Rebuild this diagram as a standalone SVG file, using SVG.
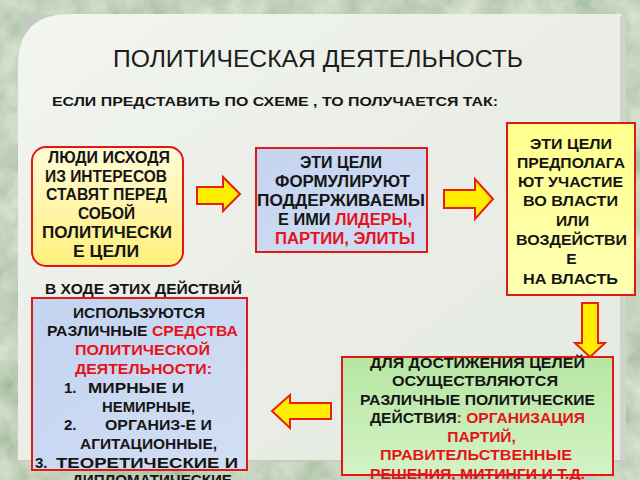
<svg xmlns="http://www.w3.org/2000/svg" width="640" height="480" viewBox="0 0 640 480" xml:space="preserve">
<style>
.t{font-family:"Liberation Sans",Arial,sans-serif;font-weight:bold;font-size:15px;fill:#151515;text-anchor:middle}
.b1{font-size:16px}
.b2{font-size:16px}
.b3{font-size:15.5px}
.b4{font-size:15.5px}
.s{text-anchor:start}
.r{fill:#e5141c}
.box{stroke:#e01818;stroke-width:2}
.arr{fill:#ffee00;stroke:#e82010;stroke-width:2;stroke-linejoin:miter}
</style>
<defs>
<filter id="tex" x="0" y="0" width="100%" height="100%">
<feTurbulence type="fractalNoise" baseFrequency="0.035" numOctaves="4" seed="7"/>
<feColorMatrix type="matrix" values="0.75 0 0 0 0.22  0.6 0 0 0 0.38  0.65 0 0 0 0.22  0 0 0 0 1"/>
</filter>
<linearGradient id="panel" x1="0" y1="0" x2="1" y2="1">
<stop offset="0" stop-color="#f2f5f0"/>
<stop offset="0.5" stop-color="#eaeee7"/>
<stop offset="1" stop-color="#e4e9e1"/>
</linearGradient>
<linearGradient id="y1" x1="0" y1="0" x2="0" y2="1">
<stop offset="0" stop-color="#fffbd8"/>
<stop offset="1" stop-color="#fff07c"/>
</linearGradient>
<linearGradient id="y3" x1="0" y1="0" x2="0" y2="1">
<stop offset="0" stop-color="#ffff8c"/>
<stop offset="1" stop-color="#ffffb4"/>
</linearGradient>
<linearGradient id="bl" x1="0" y1="0" x2="1" y2="1">
<stop offset="0" stop-color="#c3d4f0"/>
<stop offset="1" stop-color="#d2def3"/>
</linearGradient>
<linearGradient id="gr" x1="0" y1="0" x2="0" y2="1">
<stop offset="0" stop-color="#b6e6a2"/>
<stop offset="1" stop-color="#d4f2c6"/>
</linearGradient>
</defs>

<rect x="0" y="0" width="640" height="480" filter="url(#tex)"/>
<rect x="0" y="0" width="640" height="480" fill="#b8ccae" opacity="0.35"/>
<path d="M22,18 Q22,14 26,14 L626,14 L626,462 L22,462 Z" fill="#c5cbc2" opacity="0.7"/>
<path d="M18,66 Q18,14 70,14 L622,14 L622,460 L18,460 Z" fill="url(#panel)"/>
<rect x="620" y="16" width="6" height="444" fill="#cfd4cb"/>

<text x="318" y="67" font-family="'Liberation Sans',Arial,sans-serif" font-size="23" fill="#1c1c1c" text-anchor="middle" textLength="410" lengthAdjust="spacingAndGlyphs">ПОЛИТИЧЕСКАЯ  ДЕЯТЕЛЬНОСТЬ</text>
<text x="52" y="106" font-family="'Liberation Sans',Arial,sans-serif" font-weight="bold" font-size="13.5" fill="#151515" textLength="446" lengthAdjust="spacingAndGlyphs">ЕСЛИ  ПРЕДСТАВИТЬ ПО СХЕМЕ , ТО ПОЛУЧАЕТСЯ ТАК:</text>

<g id="connectors">
<polygon class="arr" points="197,187 223,187 223,177 240,194 223,211 223,204 197,204"/>
<polygon class="arr" points="444,190 475,190 475,179 493,199 475,219 475,208 444,208"/>
<polygon class="arr" points="582,303 598,303 598,343 605,343 590,357 575,343 582,343"/>
<polygon class="arr" points="331,403 331,419 290,419 290,428 272,411 290,395 290,403"/>
</g>

<g id="node-people">
<rect class="box" x="32" y="147" width="151" height="119" rx="14" fill="url(#y1)"/>
<text class="t b1" x="109" y="163" textLength="122" lengthAdjust="spacingAndGlyphs">ЛЮДИ ИСХОДЯ</text>
<text class="t b1" x="106" y="181.7" textLength="122" lengthAdjust="spacingAndGlyphs">ИЗ ИНТЕРЕСОВ</text>
<text class="t b1" x="106.5" y="200.4" textLength="121" lengthAdjust="spacingAndGlyphs">СТАВЯТ ПЕРЕД</text>
<text class="t b1" x="106.5" y="219.1" textLength="57" lengthAdjust="spacingAndGlyphs">СОБОЙ</text>
<text class="t b1" x="107" y="237.8" textLength="130" lengthAdjust="spacingAndGlyphs">ПОЛИТИЧЕСКИ</text>
<text class="t b1" x="106" y="256.5" textLength="66" lengthAdjust="spacingAndGlyphs">Е ЦЕЛИ</text>
</g>

<g id="node-formulate">
<rect class="box" x="256" y="148" width="171" height="104" fill="url(#bl)"/>
<text class="t b2" x="341" y="167.5" textLength="82" lengthAdjust="spacingAndGlyphs">ЭТИ ЦЕЛИ</text>
<text class="t b2" x="342.5" y="186.7" textLength="135" lengthAdjust="spacingAndGlyphs">ФОРМУЛИРУЮТ</text>
<text class="t b2" x="341" y="205.9" textLength="168" lengthAdjust="spacingAndGlyphs">ПОДДЕРЖИВАЕМЫ</text>
<text class="t b2" x="345" y="225.1" textLength="134" lengthAdjust="spacingAndGlyphs">Е ИМИ  <tspan class="r">ЛИДЕРЫ,</tspan></text>
<text class="t b2 r" x="345" y="244.3" textLength="140" lengthAdjust="spacingAndGlyphs">ПАРТИИ, ЭЛИТЫ</text>
</g>

<g id="node-power">
<rect class="box" x="507" y="123" width="128" height="172" fill="url(#y3)"/>
<text class="t b3" x="571" y="148.5" textLength="82" lengthAdjust="spacingAndGlyphs">ЭТИ ЦЕЛИ</text>
<text class="t b3" x="571" y="167.8" textLength="108" lengthAdjust="spacingAndGlyphs">ПРЕДПОЛАГА</text>
<text class="t b3" x="570.5" y="187.1" textLength="105" lengthAdjust="spacingAndGlyphs">ЮТ  УЧАСТИЕ</text>
<text class="t b3" x="570.5" y="206.4" textLength="95" lengthAdjust="spacingAndGlyphs">ВО  ВЛАСТИ</text>
<text class="t b3" x="572.5" y="225.7">ИЛИ</text>
<text class="t b3" x="571.5" y="245" textLength="111" lengthAdjust="spacingAndGlyphs">ВОЗДЕЙСТВИ</text>
<text class="t b3" x="571.5" y="264.3">Е</text>
<text class="t b3" x="570.5" y="283.6" textLength="95" lengthAdjust="spacingAndGlyphs">НА ВЛАСТЬ</text>
</g>

<g id="node-actions">
<rect class="box" x="342" y="357" width="271" height="118" fill="url(#gr)"/>
<text class="t b4" x="477.5" y="367.5" textLength="215" lengthAdjust="spacingAndGlyphs">ДЛЯ  ДОСТИЖЕНИЯ ЦЕЛЕЙ</text>
<text class="t b4" x="475" y="386" textLength="166" lengthAdjust="spacingAndGlyphs">ОСУЩЕСТВЛЯЮТСЯ</text>
<text class="t b4" x="477.5" y="404.5" textLength="235" lengthAdjust="spacingAndGlyphs">РАЗЛИЧНЫЕ ПОЛИТИЧЕСКИЕ</text>
<text class="t b4" x="477.5" y="423" textLength="215" lengthAdjust="spacingAndGlyphs">ДЕЙСТВИЯ<tspan class="r">: ОРГАНИЗАЦИЯ</tspan></text>
<text class="t b4 r" x="481.5" y="441.5">ПАРТИЙ,</text>
<text class="t b4 r" x="476" y="460" textLength="192" lengthAdjust="spacingAndGlyphs">ПРАВИТЕЛЬСТВЕННЫЕ</text>
<text class="t b4 r" x="477.5" y="478.5" textLength="215" lengthAdjust="spacingAndGlyphs">РЕШЕНИЯ, МИТИНГИ  И Т.Д.</text>
</g>

<g id="node-means">
<rect class="box" x="32" y="298" width="215" height="172" fill="url(#bl)"/>
<text class="t" x="143.5" y="293.5" textLength="197" lengthAdjust="spacingAndGlyphs">В ХОДЕ ЭТИХ ДЕЙСТВИЙ</text>
<text class="t" x="139" y="317.5" textLength="132" lengthAdjust="spacingAndGlyphs">ИСПОЛЬЗУЮТСЯ</text>
<text class="t" x="142.5" y="336.3" textLength="191" lengthAdjust="spacingAndGlyphs">РАЗЛИЧНЫЕ <tspan class="r">СРЕДСТВА</tspan></text>
<text class="t r" x="142.5" y="355.1" textLength="135" lengthAdjust="spacingAndGlyphs">ПОЛИТИЧЕСКОЙ</text>
<text class="t r" x="143.5" y="373.9" textLength="137" lengthAdjust="spacingAndGlyphs">ДЕЯТЕЛЬНОСТИ:</text>
<text class="t s" x="64" y="392.7">1.</text>
<text class="t s" x="88" y="392.7" textLength="96" lengthAdjust="spacingAndGlyphs">МИРНЫЕ  И</text>
<text class="t s" x="102" y="411.5" textLength="93" lengthAdjust="spacingAndGlyphs">НЕМИРНЫЕ,</text>
<text class="t s" x="64" y="430.3">2.</text>
<text class="t s" x="105" y="430.3" textLength="107" lengthAdjust="spacingAndGlyphs">ОРГАНИЗ-Е И</text>
<text class="t s" x="80" y="449.1" textLength="137" lengthAdjust="spacingAndGlyphs">АГИТАЦИОННЫЕ,</text>
<text class="t s" x="35" y="467.9">3.</text>
<text class="t s" x="56" y="467.9" textLength="182" lengthAdjust="spacingAndGlyphs">ТЕОРЕТИЧЕСКИЕ   И</text>
<text class="t s" x="72" y="485" textLength="160" lengthAdjust="spacingAndGlyphs">ДИПЛОМАТИЧЕСКИЕ</text>
</g>
</svg>
